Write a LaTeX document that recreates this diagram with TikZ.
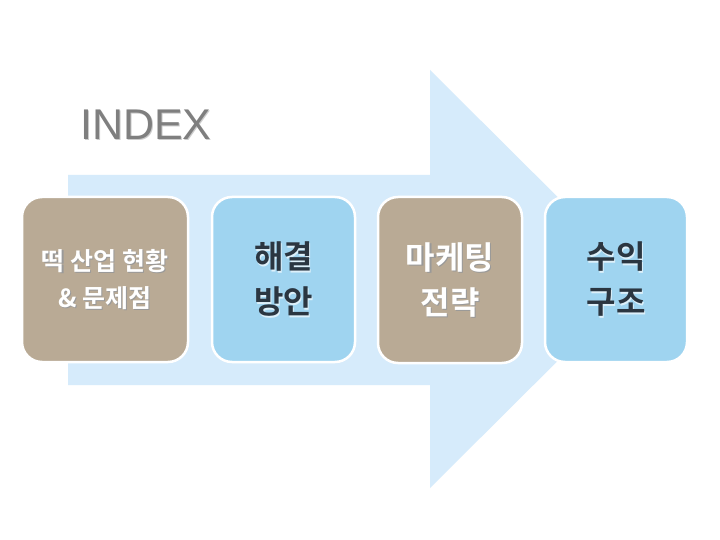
\documentclass[tikz,border=0pt]{standalone}
\usepackage{fontspec}
\setmainfont{Liberation Sans}
\newfontfamily\kr{Noto Sans CJK KR}[BoldFont={* Bold}]
\definecolor{arrowblue}{HTML}{D6EBFB}
\definecolor{tan}{HTML}{B9AA95}
\definecolor{boxblue}{HTML}{9FD4F0}
\definecolor{darktxt}{HTML}{2B3641}
\definecolor{indexgray}{HTML}{7F7F7F}
\begin{document}
\begin{tikzpicture}[x=1pt,y=-1pt,
  card/.style={draw=white,line width=2.5pt,rounded corners=20pt,inner sep=0pt,align=center},
  tancard/.style={card,fill=tan},
  bluecard/.style={card,fill=boxblue},
  wtext/.style={text=white,align=center},
  dtext/.style={text=darktxt,align=center},
  shad/.style={text=black!40,align=center},
  lshad/.style={text=white!65!boxblue,align=center},
  smallkr/.style={font=\kr\bfseries\fontsize{25}{37}\selectfont},
  bigkr/.style={font=\kr\bfseries\fontsize{32}{45}\selectfont}]
\useasboundingbox (0,0) rectangle (720,540);
\fill[white] (0,0) rectangle (720,540);
% big arrow
\fill[arrowblue] (68,175) -- (430,175) -- (430,70) -- (640,279) -- (430,488) -- (430,385) -- (68,385) -- cycle;
% title
\node[inner sep=0pt,text=black!20,font=\fontsize{43}{50}\selectfont,anchor=base west] at (81,141) {INDEX};
\node[inner sep=0pt,text=indexgray,font=\fontsize{43}{50}\selectfont,anchor=base west] (title) at (80,140) {INDEX};
% boxes
\node[tancard,minimum width=166pt,minimum height=165pt] (b1) at (105,279.5) {};
\node[bluecard,minimum width=143pt,minimum height=165pt] (b2) at (283.5,279.5) {};
\node[tancard,minimum width=144pt,minimum height=166pt] (b3) at (450,280) {};
\node[bluecard,minimum width=142pt,minimum height=165pt] (b4) at (616,279.5) {};
% texts with shadows
\node[shad,smallkr] at ([shift={(1.2,1.2)}]b1.center) {떡 산업 현황\\\& 문제점};
\node[wtext,smallkr] (t1) at (b1.center) {떡 산업 현황\\\& 문제점};
\node[lshad,bigkr] at ([shift={(1.2,1.2)}]b2.center) {해결\\방안};
\node[dtext,bigkr] (t2) at (b2.center) {해결\\방안};
\node[shad,bigkr] at ([shift={(1.2,1.2)}]b3.center) {마케팅\\전략};
\node[wtext,bigkr] (t3) at (b3.center) {마케팅\\전략};
\node[lshad,bigkr] at ([shift={(1.2,1.2)}]b4.center) {수익\\구조};
\node[dtext,bigkr] (t4) at (b4.center) {수익\\구조};
\end{tikzpicture}
\end{document}
